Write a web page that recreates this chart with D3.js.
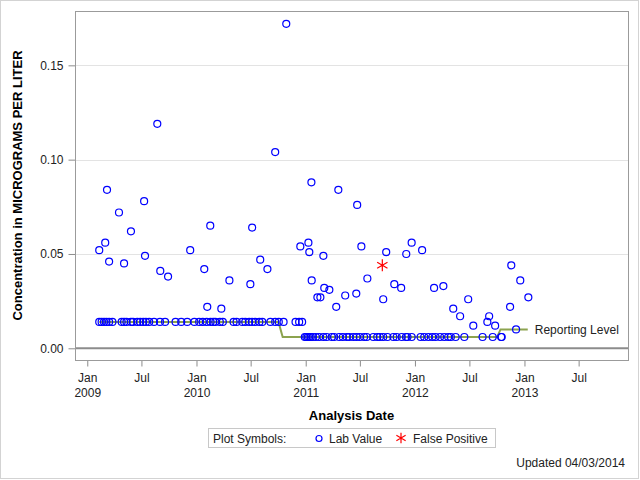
<!DOCTYPE html>
<html>
<head>
<meta charset="utf-8">
<script src="https://cdn.jsdelivr.net/npm/d3@7"></script>
<style>
  html, body { margin: 0; padding: 0; background: #fff; }
  svg { display: block; font-family: "Liberation Sans", Arial, sans-serif; }
</style>
</head>
<body>
<svg id="chart" width="640" height="480"></svg>
<script>
// ---------------- DATA ----------------
const labDates = [
  "2009-02-10","2009-03-02","2009-03-08","2009-03-15","2009-04-17","2009-05-04","2009-05-27",
  "2009-07-10","2009-07-13","2009-08-23","2009-09-02","2009-09-28","2009-12-11",
  "2010-01-27","2010-02-06","2010-02-16","2010-03-25","2010-04-21","2010-06-30","2010-07-06",
  "2010-08-02","2010-08-26","2010-09-21","2010-10-28","2010-12-14",
  "2011-01-10","2011-01-13","2011-01-20","2011-01-21","2011-02-09","2011-02-19","2011-03-01",
  "2011-03-04","2011-03-21","2011-04-13","2011-04-20","2011-05-13","2011-06-19","2011-06-22",
  "2011-07-06","2011-07-26","2011-09-17","2011-09-27","2011-10-24","2011-11-16","2011-12-03",
  "2011-12-21","2012-01-25","2012-03-05","2012-04-05","2012-05-08","2012-05-31","2012-06-27",
  "2012-07-14","2012-08-30","2012-09-05","2012-09-25","2012-11-14","2012-11-18","2012-12-04",
  "2012-12-18","2013-01-14",
  // results at the 0.014 reporting level
  "2009-02-10","2009-02-18","2009-02-26","2009-03-06","2009-03-15","2009-03-26","2009-04-26",
  "2009-05-04","2009-05-12","2009-05-27","2009-06-03","2009-06-17","2009-06-27","2009-07-07",
  "2009-07-16","2009-07-27","2009-08-12","2009-09-01","2009-09-18","2009-10-23","2009-11-11",
  "2009-12-01","2009-12-25","2010-01-10","2010-01-22","2010-02-04","2010-02-17","2010-02-26",
  "2010-03-05","2010-03-20","2010-03-30","2010-05-05","2010-05-15","2010-06-03","2010-06-13",
  "2010-06-26","2010-07-06","2010-07-16","2010-07-30","2010-08-09","2010-09-05","2010-09-21",
  "2010-10-03","2010-10-19","2010-11-28","2010-12-10","2010-12-20",
  // results at the 0.006 reporting level
  "2010-12-29","2011-01-03","2011-01-08","2011-01-13","2011-01-18","2011-01-25","2011-02-04",
  "2011-02-15","2011-03-01","2011-03-12","2011-03-29","2011-04-06","2011-04-23","2011-05-05",
  "2011-05-18","2011-05-27","2011-06-09","2011-06-20","2011-07-01","2011-07-15","2011-07-24",
  "2011-08-15","2011-08-28","2011-09-06","2011-09-17","2011-10-01","2011-10-21","2011-11-01",
  "2011-11-18","2011-12-02","2011-12-07","2011-12-21","2012-01-20","2012-02-01","2012-02-15",
  "2012-02-28","2012-03-10","2012-03-25","2012-04-08","2012-04-21","2012-04-30","2012-05-16",
  "2012-06-14","2012-08-14","2012-09-17","2012-10-15","2012-10-17"
];
const labValues = [
  0.052,0.056,0.084,0.046,0.072,0.045,0.062,
  0.078,0.049,0.119,0.041,0.038,0.052,
  0.042,0.022,0.065,0.021,0.036,0.034,0.064,
  0.047,0.042,0.104,0.172,0.054,
  0.056,0.051,0.088,0.036,0.027,0.027,0.049,
  0.032,0.031,0.022,0.084,0.028,0.029,0.076,
  0.054,0.037,0.026,0.051,0.034,0.032,0.050,
  0.056,0.052,0.032,0.033,0.021,0.017,0.026,
  0.012,0.014,0.017,0.012,0.022,0.044,0.010,
  0.036,0.027,
  0.014,0.014,0.014,0.014,0.014,0.014,0.014,
  0.014,0.014,0.014,0.014,0.014,0.014,0.014,
  0.014,0.014,0.014,0.014,0.014,0.014,0.014,
  0.014,0.014,0.014,0.014,0.014,0.014,0.014,
  0.014,0.014,0.014,0.014,0.014,0.014,0.014,
  0.014,0.014,0.014,0.014,0.014,0.014,0.014,
  0.014,0.014,0.014,0.014,0.014,
  0.006,0.006,0.006,0.006,0.006,0.006,0.006,
  0.006,0.006,0.006,0.006,0.006,0.006,0.006,
  0.006,0.006,0.006,0.006,0.006,0.006,0.006,
  0.006,0.006,0.006,0.006,0.006,0.006,0.006,
  0.006,0.006,0.006,0.006,0.006,0.006,0.006,
  0.006,0.006,0.006,0.006,0.006,0.006,0.006,
  0.006,0.006,0.006,0.006,0.006
];
const falsePosDates = ["2011-09-14"];
const falsePosValues = [0.044];
const reportDates = ["2009-02-10","2010-10-02","2010-10-16","2012-10-02","2012-10-13","2013-01-12"];
const reportValues = [0.014,0.014,0.006,0.006,0.010,0.010];
const xTickDates = ["2009-01-01","2009-07-01","2010-01-01","2010-07-01","2011-01-01","2011-07-01",
                    "2012-01-01","2012-07-01","2013-01-01","2013-07-01"];
const yTickValues = [0, 0.05, 0.10, 0.15];
const xDomain = ["2008-11-21","2013-12-13"];
const yDomain = [-0.0062, 0.1788];

// ---------------- CHART ----------------
const parse = d3.utcParse("%Y-%m-%d");
const svg = d3.select("#chart");
const L = 75, R = 628, T = 11, B = 360;

const x = d3.scaleUtc().domain(xDomain.map(parse)).range([L, R]);
const y = d3.scaleLinear().domain(yDomain).range([B, T]);

// outer border
svg.append("rect").attr("x", 0.5).attr("y", 0.5).attr("width", 638).attr("height", 478)
  .attr("fill", "#fff").attr("stroke", "#d3d3d3").attr("stroke-width", 1);

// gridlines
svg.append("g").selectAll("line").data(yTickValues.filter(v => v > 0)).join("line")
  .attr("x1", L).attr("x2", R).attr("y1", d => Math.round(y(d)) + 0.5).attr("y2", d => Math.round(y(d)) + 0.5)
  .attr("stroke", "#e3e3e3").attr("stroke-width", 1);

// zero reference line
svg.append("line").attr("x1", L).attr("x2", R).attr("y1", y(0)).attr("y2", y(0))
  .attr("stroke", "#8c8c8c").attr("stroke-width", 2);

// axes
const yAxis = d3.axisLeft(y).tickValues(yTickValues).tickFormat(d3.format(".2f"))
  .tickSize(7).tickSizeOuter(0).tickPadding(5);
const gy = svg.append("g").attr("transform", `translate(${L + 0.5},0)`).call(yAxis);
gy.select(".domain").remove();
gy.selectAll("line").attr("stroke", "#8c8c8c");
gy.selectAll("text").attr("font-size", 12).attr("fill", "#222").attr("font-family", "Liberation Sans, Arial, sans-serif");

const xTicks = xTickDates.map(parse);
const xAxis = d3.axisBottom(x).tickValues(xTicks).tickFormat("").tickSize(6).tickSizeOuter(0);
const gx = svg.append("g").attr("transform", `translate(0,${B + 0.5})`).call(xAxis);
gx.select(".domain").remove();
gx.selectAll("line").attr("stroke", "#8c8c8c");
gx.selectAll(".tick").each(function(d) {
  const t = d3.select(this).append("text").attr("fill", "#222").attr("font-size", 12)
    .attr("text-anchor", "middle").attr("font-family", "Liberation Sans, Arial, sans-serif");
  const jan = d.getUTCMonth() === 0;
  t.append("tspan").attr("x", 0).attr("y", 21).text(jan ? "Jan" : "Jul");
  if (jan) t.append("tspan").attr("x", 0).attr("y", 36).text(d.getUTCFullYear());
});

// plot frame
svg.append("rect").attr("x", L + 0.5).attr("y", T + 0.5).attr("width", R - L).attr("height", B - T)
  .attr("fill", "none").attr("stroke", "#9b9b9b").attr("stroke-width", 1);

// reporting level line
const rl = reportDates.map((d, i) => ({ d: parse(d), v: reportValues[i] }));
svg.append("path").datum(rl)
  .attr("d", d3.line().x(p => x(p.d)).y(p => y(p.v)))
  .attr("fill", "none").attr("stroke", "#8ca34f").attr("stroke-width", 2);
const last = rl[rl.length - 1];
svg.append("text").attr("x", x(last.d) + 7).attr("y", y(last.v) + 4.5)
  .attr("font-size", 12).attr("fill", "#222").text("Reporting Level");

// lab values
const lab = labDates.map((d, i) => ({ d: parse(d), v: labValues[i] }));
svg.append("g").selectAll("circle").data(lab).join("circle")
  .attr("cx", p => x(p.d)).attr("cy", p => y(p.v)).attr("r", 3.5)
  .attr("fill", "none").attr("stroke", "#0000ff").attr("stroke-width", 1.2);

// false positives
const fp = falsePosDates.map((d, i) => ({ d: parse(d), v: falsePosValues[i] }));
const star = d3.symbol().type(d3.symbolAsterisk).size(100);
svg.append("g").selectAll("path").data(fp).join("path")
  .attr("transform", p => `translate(${x(p.d)},${y(p.v)})`)
  .attr("d", star).attr("fill", "none").attr("stroke", "#ff0000").attr("stroke-width", 1.2);

// axis titles
svg.append("text").attr("transform", `translate(22,${(T + B) / 2}) rotate(-90)`)
  .attr("text-anchor", "middle").attr("font-weight", "bold").attr("font-size", 13).attr("fill", "#000")
  .text("Concentration in MICROGRAMS PER LITER");
svg.append("text").attr("x", (L + R) / 2).attr("y", 420)
  .attr("text-anchor", "middle").attr("font-weight", "bold").attr("font-size", 13).attr("fill", "#000")
  .text("Analysis Date");

// legend
const lg = svg.append("g");
lg.append("rect").attr("x", 208.5).attr("y", 428.5).attr("width", 287).attr("height", 19)
  .attr("fill", "#fff").attr("stroke", "#c8c8c8");
lg.append("text").attr("x", 213).attr("y", 443).attr("font-size", 12).attr("fill", "#222").text("Plot Symbols:");
lg.append("circle").attr("cx", 319).attr("cy", 438.5).attr("r", 3)
  .attr("fill", "none").attr("stroke", "#0000ff").attr("stroke-width", 1.2);
lg.append("text").attr("x", 329).attr("y", 443).attr("font-size", 12).attr("fill", "#222").text("Lab Value");
lg.append("path").attr("transform", "translate(401,438)").attr("d", d3.symbol().type(d3.symbolAsterisk).size(80))
  .attr("fill", "none").attr("stroke", "#ff0000").attr("stroke-width", 1.2);
lg.append("text").attr("x", 413).attr("y", 443).attr("font-size", 12).attr("fill", "#222").text("False Positive");

// footnote
svg.append("text").attr("x", 625).attr("y", 466.5).attr("text-anchor", "end")
  .attr("font-size", 12).attr("fill", "#222").text("Updated 04/03/2014");
</script>
</body>
</html>
